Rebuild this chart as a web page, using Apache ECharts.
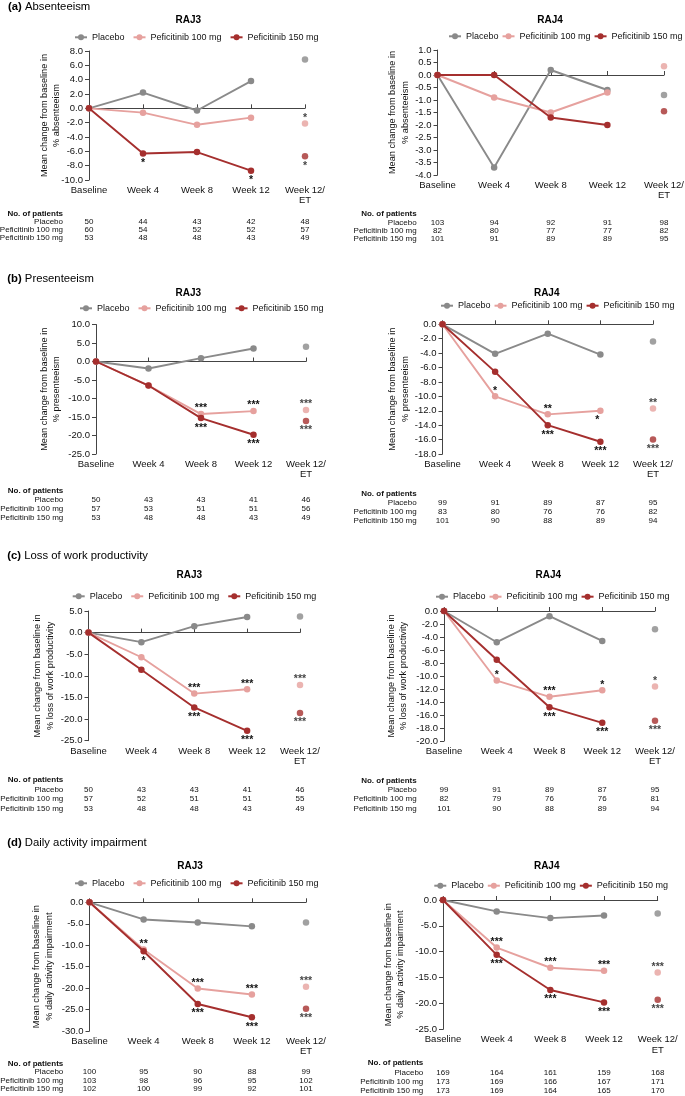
<!DOCTYPE html>
<html><head><meta charset="utf-8">
<script src="https://cdn.jsdelivr.net/npm/echarts@6/dist/echarts.min.js"></script>
<style>html,body{margin:0;padding:0;background:#fff}#c{width:685px;height:1096px}</style>
</head><body><div id="c"></div>
<script>
const FONT = '"Liberation Sans", Arial, sans-serif';
const categories = ['Baseline', 'Week 4', 'Week 8', 'Week 12', 'Week 12/\nET'];
const seriesNames = ['Placebo', 'Peficitinib 100 mg', 'Peficitinib 150 mg'];
const tableRowLabels = ['No. of patients', 'Placebo', 'Peficitinib 100 mg', 'Peficitinib 150 mg'];

// (a) Absenteeism
const absRAJ3Placebo = [0, 2.2, -0.3, 3.8, 6.8];
const absRAJ3P100 = [0, -0.6, -2.3, -1.3, -2.1];
const absRAJ3P150 = [0, -6.3, -6.1, -8.7, -6.7];
const absRAJ3Stars100 = ['', '', '', '', '*'];
const absRAJ3Stars150 = ['', '*', '', '*', '*'];
const absRAJ3NPlacebo = [50, 44, 43, 42, 48];
const absRAJ3N100 = [60, 54, 52, 52, 57];
const absRAJ3N150 = [53, 48, 48, 43, 49];

const absRAJ4Placebo = [0, -3.7, 0.2, -0.6, -0.8];
const absRAJ4P100 = [0, -0.9, -1.5, -0.7, 0.35];
const absRAJ4P150 = [0, 0.0, -1.7, -2.0, -1.45];
const absRAJ4Stars100 = ['', '', '', '', ''];
const absRAJ4Stars150 = ['', '', '', '', ''];
const absRAJ4NPlacebo = [103, 94, 92, 91, 98];
const absRAJ4N100 = [82, 80, 77, 77, 82];
const absRAJ4N150 = [101, 91, 89, 89, 95];

// (b) Presenteeism
const preRAJ3Placebo = [0, -1.9, 0.9, 3.5, 4.0];
const preRAJ3P100 = [0, -6.5, -14.2, -13.4, -13.1];
const preRAJ3P150 = [0, -6.5, -15.3, -19.8, -16.1];
const preRAJ3Stars100 = ['', '', '***', '***', '***'];
const preRAJ3Stars150 = ['', '', '***', '***', '***'];
const preRAJ3NPlacebo = [50, 43, 43, 41, 46];
const preRAJ3N100 = [57, 53, 51, 51, 56];
const preRAJ3N150 = [53, 48, 48, 43, 49];

const preRAJ4Placebo = [0, -4.1, -1.3, -4.2, -2.4];
const preRAJ4P100 = [0, -10.0, -12.5, -12.0, -11.7];
const preRAJ4P150 = [0, -6.6, -14.0, -16.3, -16.0];
const preRAJ4Stars100 = ['', '*', '**', '*', '**'];
const preRAJ4Stars150 = ['', '', '***', '***', '***'];
const preRAJ4NPlacebo = [99, 91, 89, 87, 95];
const preRAJ4N100 = [83, 80, 76, 76, 82];
const preRAJ4N150 = [101, 90, 88, 89, 94];

// (c) Loss of work productivity
const lwpRAJ3Placebo = [0, -2.2, 1.5, 3.6, 3.7];
const lwpRAJ3P100 = [0, -5.7, -14.1, -13.1, -12.1];
const lwpRAJ3P150 = [0, -8.6, -17.3, -22.7, -18.6];
const lwpRAJ3Stars100 = ['', '', '***', '***', '***'];
const lwpRAJ3Stars150 = ['', '', '***', '***', '***'];
const lwpRAJ3NPlacebo = [50, 43, 43, 41, 46];
const lwpRAJ3N100 = [57, 52, 51, 51, 55];
const lwpRAJ3N150 = [53, 48, 48, 43, 49];

const lwpRAJ4Placebo = [0, -4.8, -0.8, -4.6, -2.8];
const lwpRAJ4P100 = [0, -10.7, -13.2, -12.2, -11.6];
const lwpRAJ4P150 = [0, -7.5, -14.8, -17.2, -16.9];
const lwpRAJ4Stars100 = ['', '*', '***', '*', '*'];
const lwpRAJ4Stars150 = ['', '', '***', '***', '***'];
const lwpRAJ4NPlacebo = [99, 91, 89, 87, 95];
const lwpRAJ4N100 = [82, 79, 76, 76, 81];
const lwpRAJ4N150 = [101, 90, 88, 89, 94];

// (d) Daily activity impairment
const daiRAJ3Placebo = [0, -4.0, -4.7, -5.6, -4.7];
const daiRAJ3P100 = [0, -11.0, -20.1, -21.5, -19.7];
const daiRAJ3P150 = [0, -11.4, -23.7, -26.8, -24.8];
const daiRAJ3Stars100 = ['', '**', '***', '***', '***'];
const daiRAJ3Stars150 = ['', '*', '***', '***', '***'];
const daiRAJ3NPlacebo = [100, 95, 90, 88, 99];
const daiRAJ3N100 = [103, 98, 96, 95, 102];
const daiRAJ3N150 = [102, 100, 99, 92, 101];

const daiRAJ4Placebo = [0, -2.2, -3.5, -3.0, -2.6];
const daiRAJ4P100 = [0, -9.2, -13.1, -13.7, -14.0];
const daiRAJ4P150 = [0, -10.6, -17.4, -19.8, -19.3];
const daiRAJ4Stars100 = ['', '***', '***', '***', '***'];
const daiRAJ4Stars150 = ['', '***', '***', '***', '***'];
const daiRAJ4NPlacebo = [169, 164, 161, 159, 168];
const daiRAJ4N100 = [173, 169, 166, 167, 171];
const daiRAJ4N150 = [173, 169, 164, 165, 170];

const headings = [
  {tag: '(a)', text: 'Absenteeism', x: 8, y: 6.5},
  {tag: '(b)', text: 'Presenteeism', x: 7.3, y: 279},
  {tag: '(c)', text: 'Loss of work productivity', x: 7.3, y: 555.7},
  {tag: '(d)', text: 'Daily activity impairment', x: 7.3, y: 843}
];

const panels = [
  {study: 'RAJ3', yName: 'Mean change from baseline in\n% absenteeism', min: -10, max: 8, interval: 2,
   vals: [absRAJ3Placebo, absRAJ3P100, absRAJ3P150], stars: [null, absRAJ3Stars100, absRAJ3Stars150],
   n: [absRAJ3NPlacebo, absRAJ3N100, absRAJ3N150],
   L: 89, R: 305, T: 51, B: 180, nameGap: 26, tx: 188.3, ty: 20.7, lgX: 74, lgY: 38.3, lgGap: 8, row1: 221.7, rowH: 8, labR: 63},
  {study: 'RAJ4', yName: 'Mean change from baseline in\n% absenteeism', min: -4, max: 1, interval: 0.5,
   vals: [absRAJ4Placebo, absRAJ4P100, absRAJ4P150], stars: [null, absRAJ4Stars100, absRAJ4Stars150],
   n: [absRAJ4NPlacebo, absRAJ4N100, absRAJ4N150],
   L: 437.5, R: 664, T: 50, B: 175, nameGap: 26, tx: 550, ty: 20.7, lgX: 448, lgY: 37.3, lgGap: 3, row1: 222.3, rowH: 8.3, labR: 416.7},
  {study: 'RAJ3', yName: 'Mean change from baseline in\n% presenteeism', min: -25, max: 10, interval: 5,
   vals: [preRAJ3Placebo, preRAJ3P100, preRAJ3P150], stars: [null, preRAJ3Stars100, preRAJ3Stars150],
   n: [preRAJ3NPlacebo, preRAJ3N100, preRAJ3N150],
   L: 96, R: 306, T: 324.5, B: 454, nameGap: 33, tx: 188.3, ty: 293.3, lgX: 79, lgY: 309.3, lgGap: 8, row1: 500, rowH: 9.1, labR: 63.3},
  {study: 'RAJ4', yName: 'Mean change from baseline in\n% presenteeism', min: -18, max: 0, interval: 2,
   vals: [preRAJ4Placebo, preRAJ4P100, preRAJ4P150], stars: [null, preRAJ4Stars100, preRAJ4Stars150],
   n: [preRAJ4NPlacebo, preRAJ4N100, preRAJ4N150], below100: [3],
   L: 442.5, R: 653, T: 324.3, B: 454, nameGap: 31, tx: 546.7, ty: 293, lgX: 440, lgY: 306.7, lgGap: 3, row1: 502.7, rowH: 9, labR: 416.7},
  {study: 'RAJ3', yName: 'Mean change from baseline in\n% loss of work productivity', min: -25, max: 5, interval: 5,
   vals: [lwpRAJ3Placebo, lwpRAJ3P100, lwpRAJ3P150], stars: [null, lwpRAJ3Stars100, lwpRAJ3Stars150],
   n: [lwpRAJ3NPlacebo, lwpRAJ3N100, lwpRAJ3N150],
   L: 88.5, R: 300, T: 611, B: 740.7, nameGap: 32, tx: 189.3, ty: 575.7, lgX: 71.7, lgY: 597.3, lgGap: 8, row1: 789.3, rowH: 9.5, labR: 63.3},
  {study: 'RAJ4', yName: 'Mean change from baseline in\n% loss of work productivity', min: -20, max: 0, interval: 2,
   vals: [lwpRAJ4Placebo, lwpRAJ4P100, lwpRAJ4P150], stars: [null, lwpRAJ4Stars100, lwpRAJ4Stars150],
   n: [lwpRAJ4NPlacebo, lwpRAJ4N100, lwpRAJ4N150],
   L: 444, R: 655, T: 611, B: 741, nameGap: 34, tx: 548.3, ty: 575, lgX: 435, lgY: 597.7, lgGap: 3, row1: 790, rowH: 9.2, labR: 416.7},
  {study: 'RAJ3', yName: 'Mean change from baseline in\n% daily activity impairment', min: -30, max: 0, interval: 5,
   vals: [daiRAJ3Placebo, daiRAJ3P100, daiRAJ3P150], stars: [null, daiRAJ3Stars100, daiRAJ3Stars150],
   n: [daiRAJ3NPlacebo, daiRAJ3N100, daiRAJ3N150],
   L: 89.5, R: 306, T: 902.3, B: 1031, nameGap: 34, tx: 190, ty: 866, lgX: 74, lgY: 884.3, lgGap: 8, row1: 1072, rowH: 8.3, labR: 63.3},
  {study: 'RAJ4', yName: 'Mean change from baseline in\n% daily activity impairment', min: -25, max: 0, interval: 5,
   vals: [daiRAJ4Placebo, daiRAJ4P100, daiRAJ4P150], stars: [null, daiRAJ4Stars100, daiRAJ4Stars150],
   n: [daiRAJ4NPlacebo, daiRAJ4N100, daiRAJ4N150],
   L: 443, R: 657.7, T: 900, B: 1029.3, nameGap: 36, tx: 546.7, ty: 866, lgX: 433.3, lgY: 886.7, lgGap: 3, row1: 1072.3, rowH: 9.2, labR: 423.3}
];

const colors = ['#8a8a8a', '#e6a19e', '#a52f2e'];
const AXIS = '#444';
const TXT = '#111';

const grid = [], xAxis = [], yAxis = [], series = [], legend = [], graphic = [];

headings.forEach(h => {
  graphic.push({type: 'text', x: h.x, y: h.y, silent: true, style: {
    text: '{b|' + h.tag + '} ' + h.text, fontSize: 11.3, fontFamily: FONT, fill: '#000',
    verticalAlign: 'middle', align: 'left',
    rich: {b: {fontWeight: 'bold', fontSize: 11.3, fontFamily: FONT, fill: '#000'}}
  }});
});

function starLabel(star, above, dx) {
  return {show: true, formatter: star, position: 'inside', offset: [dx, above ? -5.5 : 9.5],
          fontSize: 10.5, fontWeight: 'bold', color: TXT, fontFamily: FONT};
}

panels.forEach((p, i) => {
  grid.push({left: p.L, top: p.T, width: p.R - p.L, height: p.B - p.T, containLabel: false, outerBoundsMode: 'none'});
  xAxis.push({type: 'category', gridIndex: i, data: categories, boundaryGap: false, position: 'bottom',
    axisLine: {show: false, onZero: false}, axisTick: {show: false}, splitLine: {show: false},
    axisLabel: {interval: 0, fontSize: 9.5, lineHeight: 10.5, color: TXT, margin: 5, fontFamily: FONT}});
  xAxis.push({type: 'category', gridIndex: i, data: categories, boundaryGap: false, position: 'top',
    axisLine: {show: true, onZero: true, lineStyle: {color: AXIS, width: 1}},
    axisTick: {show: true, length: 4, interval: 0, lineStyle: {color: AXIS}},
    axisLabel: {show: false}, splitLine: {show: false}});
  const table = categories.map((c, k) => p.n.map(arr => arr[k]).join('\n'));
  xAxis.push({type: 'category', gridIndex: i, data: table, boundaryGap: false, position: 'bottom',
    offset: p.row1 - p.rowH / 2 - p.B,
    axisLine: {show: false, onZero: false}, axisTick: {show: false}, splitLine: {show: false},
    axisLabel: {interval: 0, fontSize: 8, lineHeight: p.rowH, margin: 0, color: TXT, fontFamily: FONT}});
  yAxis.push({type: 'value', gridIndex: i, min: p.min, max: p.max, interval: p.interval,
    axisLine: {show: true, onZero: false, lineStyle: {color: AXIS, width: 1}},
    axisTick: {show: true, length: 4, lineStyle: {color: AXIS}},
    axisLabel: {fontSize: 9.5, color: TXT, margin: 6, fontFamily: FONT, formatter: v => v.toFixed(1)},
    splitLine: {show: false},
    name: p.yName, nameLocation: 'middle', nameGap: p.nameGap, nameMoveOverlap: false,
    nameTextStyle: {fontSize: 9.2, lineHeight: 12.5, color: TXT, fontFamily: FONT}});

  p.vals.forEach((vals, g) => {
    const mk = k => {
      const s = p.stars[g] && p.stars[g][k];
      if (!s) return vals[k];
      let above = g === 1, dx = 0;
      if (g === 1 && p.below100 && p.below100.indexOf(k) >= 0) { above = false; dx = -3; }
      return {value: vals[k], label: starLabel(s, above, dx)};
    };
    const common = {name: seriesNames[g], xAxisIndex: 3 * i, yAxisIndex: i, symbol: 'circle', symbolSize: 6.5,
      itemStyle: {color: colors[g]}, emphasis: {disabled: true}, z: 3 + g, animation: false};
    series.push(Object.assign({type: 'line', data: vals.map((v, k) => k < 4 ? mk(k) : '-'),
      lineStyle: {width: 1.9, color: colors[g]}, showSymbol: true}, common));
    series.push(Object.assign({type: 'scatter', data: vals.map((v, k) => k === 4 ? mk(k) : '-')}, common));
  });

  legend.push({left: p.lgX, top: p.lgY - 5.5, itemWidth: 12, itemHeight: 7.5, itemGap: p.lgGap,
    selectedMode: false, data: seriesNames, padding: 0,
    textStyle: {fontSize: 9, color: TXT, fontFamily: FONT}});

  graphic.push({type: 'text', x: p.tx, y: p.ty, silent: true, style: {
    text: p.study, fontSize: 10, fontWeight: 'bold', fontFamily: FONT, fill: '#000', align: 'center', verticalAlign: 'middle'}});

  graphic.push({type: 'text', x: p.labR, y: p.row1 - 1.5 * p.rowH, silent: true, style: {
    text: '{h|' + tableRowLabels[0] + '}\n' + tableRowLabels.slice(1).map(t => '{n|' + t + '}').join('\n'),
    align: 'right', verticalAlign: 'top', fontFamily: FONT, fontSize: 8, fill: TXT,
    rich: {h: {fontWeight: 'bold', fontSize: 8, lineHeight: p.rowH, fontFamily: FONT, fill: TXT, align: 'right'},
           n: {fontSize: 8, lineHeight: p.rowH, fontFamily: FONT, fill: TXT, align: 'right'}}}});
});

const chart = echarts.init(document.getElementById('c'), null, {renderer: 'canvas'});
chart.setOption({
  animation: false,
  backgroundColor: '#fff',
  textStyle: {fontFamily: FONT},
  grid, xAxis, yAxis, series, legend, graphic
});
</script>
</body></html>
